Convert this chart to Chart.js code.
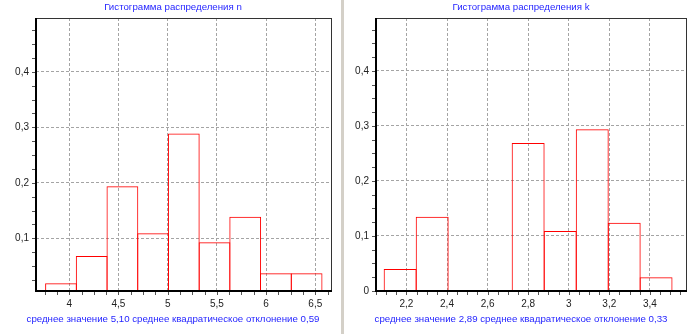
<!DOCTYPE html>
<html><head><meta charset="utf-8">
<script src="https://cdn.jsdelivr.net/npm/chart.js@4/dist/chart.umd.min.js"></script>
<style>
html,body{margin:0;padding:0;background:#fff;overflow:hidden;width:688px;height:334px}
#wrap{position:relative;width:688px;height:334px;overflow:hidden;background:#fff}
#c1{position:absolute;left:0;top:0;width:346px;height:334px}
#c2{position:absolute;left:344px;top:0;width:354px;height:334px}
#sep{position:absolute;left:341px;top:0;width:3px;height:334px;background:#d4d0c8}
</style></head><body>
<div id="wrap">
<canvas id="c1" width="346" height="334"></canvas>
<div id="sep"></div>
<canvas id="c2" width="354" height="334"></canvas>
</div>
<script>
// ---- data ----
const nTitle = "Гистограмма распределения n";
const nFooter = "среднее значение 5,10 среднее квадратическое отклонение 0,59";
const nBinEdges = [3.76, 4.072, 4.384, 4.696, 5.008, 5.32, 5.632, 5.944, 6.256, 6.568];
const nValues = [0.019, 0.068, 0.194, 0.109, 0.289, 0.093, 0.139, 0.037, 0.037];
const nXTicks = [4, 4.5, 5, 5.5, 6, 6.5];
const nYTicks = [0.1, 0.2, 0.3, 0.4];

const kTitle = "Гистограмма распределения k";
const kFooter = "среднее значение 2,89 среднее квадратическое отклонение 0,33";
const kBinEdges = [2.09, 2.248, 2.406, 2.564, 2.721, 2.879, 3.037, 3.195, 3.352, 3.509];
const kValues = [0.040, 0.135, 0, 0, 0.269, 0.109, 0.294, 0.124, 0.025];
const kXTicks = [2.2, 2.4, 2.6, 2.8, 3, 3.2, 3.4];
const kYTicks = [0, 0.1, 0.2, 0.3, 0.4];

const FONT = '"Liberation Sans", Arial, sans-serif';
const fmt = v => String(Math.round(v * 1000) / 1000).replace('.', ',');

const deco = {
  id: 'deco',
  afterDatasetsDraw(chart, args, o) {
    const {ctx, chartArea: a, scales: {x, y}} = chart;
    ctx.save();
    // minor + major ticks
    ctx.strokeStyle = '#555'; ctx.lineWidth = 1;
    ctx.beginPath();
    const xs = o.xStep / 4, ys = o.yStep / 4;
    for (let v = Math.ceil(x.min / xs) * xs; v <= x.max + 1e-9; v += xs) {
      const px = Math.round(x.getPixelForValue(v)) + 0.5;
      ctx.moveTo(px, a.bottom); ctx.lineTo(px, a.bottom + 4);
    }
    for (let v = Math.ceil(y.min / ys) * ys; v <= y.max + 1e-9; v += ys) {
      const py = Math.round(y.getPixelForValue(v)) + 0.5;
      ctx.moveTo(a.left - 4, py); ctx.lineTo(a.left, py);
    }
    ctx.stroke();
    // frame
    ctx.strokeStyle = '#333'; ctx.lineWidth = 1;
    ctx.strokeRect(a.left + 0.5, a.top + 0.5, a.right - a.left - 1, a.bottom - a.top);
    ctx.strokeStyle = '#000'; ctx.lineWidth = 2;
    ctx.beginPath();
    ctx.moveTo(a.left, a.top); ctx.lineTo(a.left, a.bottom); ctx.lineTo(a.right, a.bottom);
    ctx.stroke();
    // texts
    ctx.fillStyle = '#1f1fff';
    ctx.font = '9.7px ' + FONT;
    ctx.textAlign = 'center'; ctx.textBaseline = 'middle';
    ctx.fillText(o.title, chart.width / 2, 7.5);
    ctx.fillText(o.footer, chart.width / 2, 319.5);
    ctx.restore();
  }
};

function makeChart(id, edges, values, xTicks, yTicks, opts) {
  const centers = values.map((v, i) => (edges[i] + edges[i + 1]) / 2);
  return new Chart(document.getElementById(id), {
    type: 'bar',
    data: {
      datasets: [{
        data: centers.map((c, i) => ({x: c, y: values[i]})),
        backgroundColor: 'rgba(255,255,255,0)',
        borderColor: '#ff0000',
        borderWidth: 1,
        barPercentage: 1.035,
        categoryPercentage: 1
      }]
    },
    options: {
      responsive: false,
      animation: false,
      devicePixelRatio: 1,
      layout: {padding: {top: 18, right: opts.padRight, left: 0, bottom: 0}},
      plugins: {
        legend: {display: false},
        tooltip: {enabled: false},
        deco: {title: opts.title, footer: opts.footer, xStep: opts.xStep, yStep: opts.yStep}
      },
      scales: {
        x: {
          type: 'linear', min: opts.xMin, max: opts.xMax, offset: false,
          afterBuildTicks: s => { s.ticks = xTicks.map(v => ({value: v})); },
          afterFit: s => { s.height = 43; },
          grid: {color: '#a4a4a4', drawTicks: false, offset: false},
          border: {display: false, dash: [3, 2]},
          ticks: {padding: 7, color: '#222', font: {family: FONT, size: 10}, callback: v => fmt(v), maxRotation: 0}
        },
        y: {
          type: 'linear', min: opts.yMin, max: opts.yMax,
          afterBuildTicks: s => { s.ticks = yTicks.map(v => ({value: v})); },
          afterFit: s => { s.width = opts.yWidth; },
          grid: {color: '#a4a4a4', drawTicks: false},
          border: {display: false, dash: [3, 2]},
          ticks: {padding: 7, color: '#222', font: {family: FONT, size: 10}, callback: v => fmt(v)}
        }
      }
    },
    plugins: [deco]
  });
}

makeChart('c1', nBinEdges, nValues, nXTicks, nYTicks, {
  title: nTitle, footer: nFooter, xMin: 3.662, xMax: 6.67, yMin: 0.005, yMax: 0.497,
  yWidth: 36, padRight: 14, xStep: 0.5, yStep: 0.1
});
makeChart('c2', kBinEdges, kValues, kXTicks, kYTicks, {
  title: kTitle, footer: kFooter, xMin: 2.05, xMax: 3.583, yMin: 0, yMax: 0.496,
  yWidth: 32, padRight: 11, xStep: 0.2, yStep: 0.1
});
</script>
</body></html>
